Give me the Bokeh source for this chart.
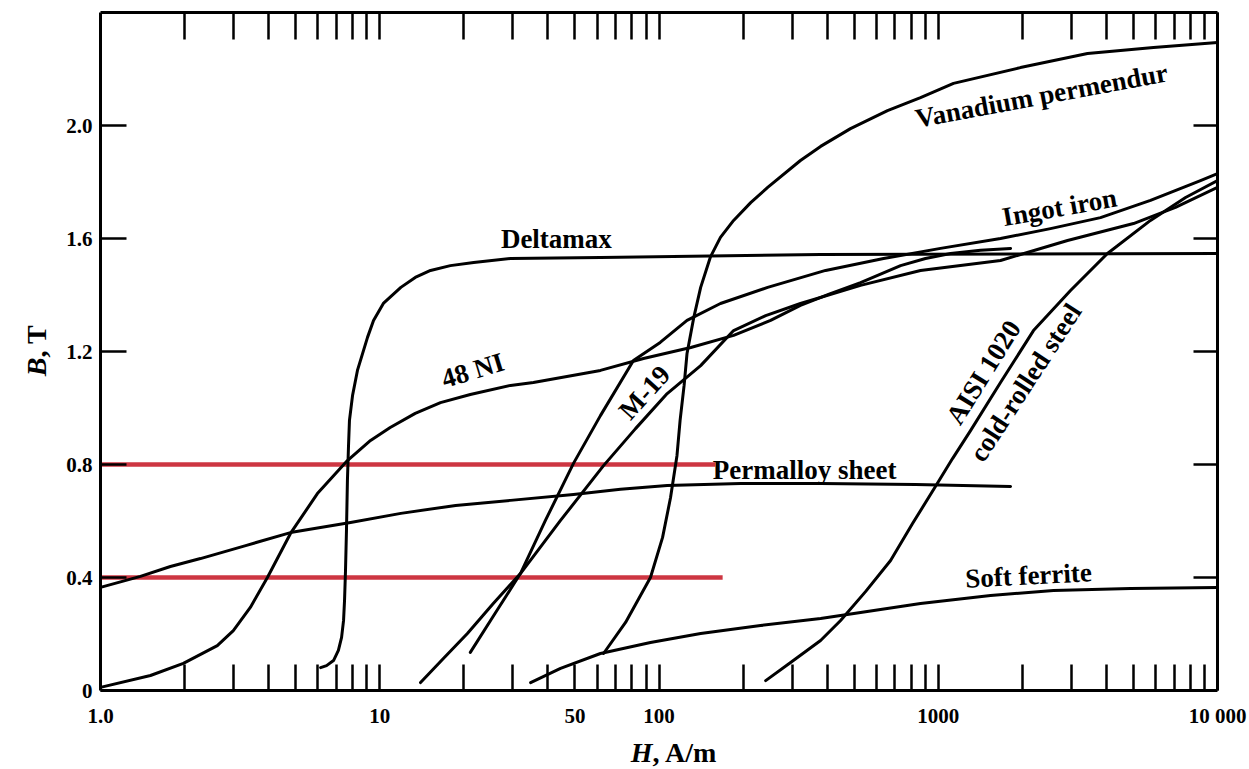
import math
from bokeh.plotting import figure
from bokeh.models import LogAxis, LinearAxis, FixedTicker, Range1d, Label
from bokeh.embed import file_html
from bokeh.resources import INLINE

# ---------------- data (H in A/m, B in T) ----------------
deltamax_h = [6.14, 6.45, 6.83, 7.11, 7.30, 7.42, 7.48, 7.54, 7.60, 7.66, 7.73, 7.79, 7.99, 8.32,
              9.04, 9.50, 10.3, 11.9, 13.4, 15.2, 17.9, 21.7, 29.4, 61.7, 379, 10000]
deltamax_b = [0.081, 0.088, 0.106, 0.142, 0.188, 0.248, 0.319, 0.425, 0.566, 0.743, 0.867, 0.956, 1.044, 1.133,
              1.250, 1.310, 1.370, 1.427, 1.462, 1.487, 1.504, 1.515, 1.529, 1.533, 1.543, 1.547]

ni48_h = [1.0, 1.51, 1.98, 2.62, 2.99, 3.44, 3.96, 4.79, 5.98, 7.66, 9.27, 10.9, 13.4, 16.5, 21.1,
          29.4, 35.5, 61.7, 88.0, 130, 185, 251, 321, 411, 527, 733, 900, 1107, 1417, 1815]
ni48_b = [0.011, 0.053, 0.096, 0.159, 0.212, 0.294, 0.400, 0.556, 0.697, 0.814, 0.885, 0.931, 0.981, 1.019, 1.048,
          1.080, 1.090, 1.133, 1.175, 1.214, 1.257, 1.310, 1.363, 1.405, 1.444, 1.504, 1.529, 1.547, 1.558, 1.565]

permalloy_h = [1.0, 1.39, 1.78, 2.28, 3.31, 4.79, 7.86, 11.9, 18.7, 29.4, 49.4, 72.8, 107, 196, 379, 829, 1815]
permalloy_b = [0.365, 0.404, 0.439, 0.467, 0.513, 0.559, 0.595, 0.627, 0.655, 0.673, 0.694, 0.712, 0.726, 0.733,
               0.733, 0.729, 0.722]

m19_h = [14.0, 16.9, 20.6, 25.5, 31.9, 44.4, 63.3, 82.4, 107, 141, 185, 241, 321, 527, 864, 1671, 2904,
         5002, 7071, 10000]
m19_b = [0.028, 0.113, 0.202, 0.308, 0.414, 0.602, 0.796, 0.927, 1.051, 1.150, 1.274, 1.327, 1.370, 1.434, 1.487,
         1.522, 1.593, 1.653, 1.710, 1.781]

ingot_h = [21.1, 26.0, 31.9, 39.2, 49.4, 61.7, 81.0, 101, 126, 166, 245, 395, 637, 1019, 1671, 2523, 3811,
           5755, 8693, 10000]
ingot_b = [0.135, 0.276, 0.414, 0.602, 0.804, 0.973, 1.168, 1.232, 1.310, 1.370, 1.427, 1.487, 1.529, 1.565,
           1.600, 1.635, 1.674, 1.735, 1.805, 1.830]

vanadium_h = [63.3, 75.9, 93.2, 103, 110, 116, 119, 123, 126, 133, 141, 153, 166, 185, 213, 245, 321, 379,
              485, 658, 864, 1134, 1970, 3424, 5899, 10000]
vanadium_b = [0.131, 0.241, 0.400, 0.542, 0.683, 0.832, 0.956, 1.080, 1.193, 1.317, 1.427, 1.536, 1.604, 1.664,
              1.727, 1.781, 1.876, 1.926, 1.989, 2.053, 2.099, 2.149, 2.205, 2.255, 2.276, 2.294]

aisi_h = [241, 296, 379, 447, 549, 675, 809, 977, 1125, 1305, 1671, 2193, 2976, 4036, 5755, 7685, 10000]
aisi_b = [0.035, 0.099, 0.177, 0.248, 0.350, 0.460, 0.591, 0.722, 0.821, 0.920, 1.090, 1.274, 1.416, 1.547,
          1.664, 1.745, 1.805]

ferrite_h = [34.7, 44.4, 61.7, 93.2, 141, 231, 379, 864, 1539, 2586, 4882, 10000]
ferrite_b = [0.028, 0.078, 0.131, 0.170, 0.202, 0.230, 0.255, 0.308, 0.336, 0.354, 0.361, 0.365]

red_levels = [0.8, 0.4]
red_ends = [159, 169]

x_major = [1, 10, 50, 100, 1000, 10000]
x_labels = ["1.0", "10", "50", "100", "1000", "10 000"]
x_minor = [m * 10 ** k for k in range(4) for m in range(2, 11)]
y_major = [0, 0.4, 0.8, 1.2, 1.6, 2.0]
y_labels = ["0", "0.4", "0.8", "1.2", "1.6", "2.0"]

# curve labels: text, H, B, angle (deg)
curve_labels = [
    ("Deltamax", 42.9, 1.600, 0),
    ("Vanadium permendur", 2343, 2.106, 10.5),
    ("Ingot iron", 2718, 1.710, 10),
    ("48 NI", 21.5, 1.133, 17),
    ("M-19", 88.7, 1.055, 48),
    ("Permalloy sheet", 332, 0.779, 0),
    ("AISI 1020", 1452, 1.126, 58),
    ("cold-rolled steel", 2053, 1.090, 57),
    ("Soft ferrite", 2105, 0.407, 3),
]

SERIF = "Liberation Serif"

p = figure(width=1249, height=769, x_axis_type="log",
           x_range=Range1d(1, 10000), y_range=Range1d(0, 2.40),
           output_backend="svg", toolbar_location=None,
           x_axis_location=None, y_axis_location=None,
           min_border_left=100, min_border_right=32,
           min_border_top=12, min_border_bottom=79)
p.grid.visible = False
p.outline_line_color = None
p.background_fill_color = "white"
p.border_fill_color = "white"


def style_axis(ax, tick_len):
    ax.axis_line_width = 3
    ax.axis_line_color = "black"
    ax.major_tick_in = tick_len
    ax.major_tick_out = 0
    ax.minor_tick_in = tick_len
    ax.minor_tick_out = 0
    ax.major_tick_line_width = 2.5
    ax.minor_tick_line_width = 2.5
    ax.major_tick_line_color = "black"
    ax.minor_tick_line_color = "black"
    ax.major_label_text_font = SERIF
    ax.major_label_text_font_style = "bold"
    ax.major_label_text_font_size = "21px"
    ax.major_label_text_color = "black"


bottom = LogAxis(ticker=FixedTicker(ticks=x_major, minor_ticks=x_minor),
                 major_label_overrides={v: s for v, s in zip(x_major, x_labels)})
style_axis(bottom, 26)
bottom.major_label_standoff = 13
bottom.major_tick_in = 0
p.add_layout(bottom, "below")

top = LogAxis(ticker=FixedTicker(ticks=[], minor_ticks=x_minor))
style_axis(top, 27)
p.add_layout(top, "above")

left = LinearAxis(ticker=FixedTicker(ticks=y_major),
                  major_label_overrides={v: s for v, s in zip(y_major, y_labels)})
style_axis(left, 26)
left.major_label_standoff = 8
p.add_layout(left, "left")

right = LinearAxis(ticker=FixedTicker(ticks=[], minor_ticks=y_major[1:]))
style_axis(right, 24)
p.add_layout(right, "right")

red = "#c8202e"
for lvl, end in zip(red_levels, red_ends):
    p.line([1, end], [lvl, lvl], line_color=red, line_width=4.5, line_alpha=0.9)

for hs, bs in [(deltamax_h, deltamax_b), (ni48_h, ni48_b), (permalloy_h, permalloy_b),
               (m19_h, m19_b), (ingot_h, ingot_b), (vanadium_h, vanadium_b),
               (aisi_h, aisi_b), (ferrite_h, ferrite_b)]:
    p.line(hs, bs, line_color="black", line_width=3, line_join="round", line_cap="round")

for txt, hx, by, ang in curve_labels:
    p.add_layout(Label(x=hx, y=by, text=txt, angle=math.radians(ang),
                       text_align="center", text_baseline="middle",
                       text_font=SERIF, text_font_style="bold",
                       text_font_size="27px", text_color="black"))

# axis titles (italic symbol + upright unit); placed in side panels so they are not clipped,
# positioned in canvas pixels
title_specs = [
    ("H", 652, 752, 0, "right", "bold italic", "right"),
    (", A/m", 652, 752, 0, "left", "bold", "below"),
    ("B", 36, 357, math.pi / 2, "right", "bold italic", "left"),
    (", T", 36, 357, math.pi / 2, "left", "bold", "left"),
]
for txt, cx, cy, ang, align, style, side in title_specs:
    p.add_layout(Label(x=cx, y=cy, x_units="canvas", y_units="canvas", text=txt, angle=ang,
                       text_align=align, text_baseline="middle", text_color="black",
                       text_font=SERIF, text_font_style=style, text_font_size="28px"), side)

open("out.html", "w").write(file_html(p, INLINE))
